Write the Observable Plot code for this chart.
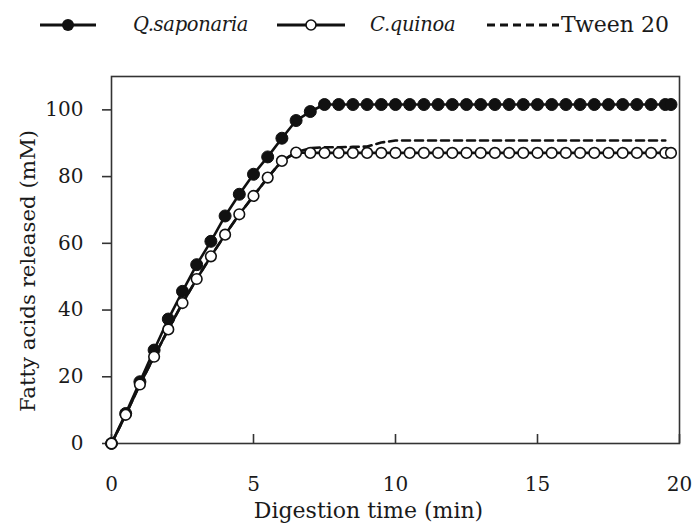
<!DOCTYPE html>
<html>
<head>
<meta charset="utf-8">
<script src="https://cdn.jsdelivr.net/npm/d3@7"></script>
<script src="https://cdn.jsdelivr.net/npm/@observablehq/plot@0.6"></script>
<style>
  html, body { margin: 0; padding: 0; background: #fff; }
  #wrap { position: relative; width: 697px; height: 525px; font-family: "DejaVu Serif", serif; color: #1a1a1a; }
  #legend { position: relative; width: 697px; height: 50px; }
  .lg { position: absolute; top: 12px; font-size: 20px; line-height: 26px; white-space: nowrap; }
  .sw { position: absolute; top: 13px; }
  #chart { position: absolute; left: 0; top: 50px; }
</style>
</head>
<body>
<div id="wrap">
  <div id="legend"></div>
  <div id="chart"></div>
</div>
<script>
// ---- data ----
const seriesNames = ["Q.saponaria", "C.quinoa", "Tween 20"];
const time = [0,0.5,1,1.5,2,2.5,3,3.5,4,4.5,5,5.5,6,6.5,7,7.5,8,8.5,9,9.5,10,10.5,11,11.5,12,12.5,13,13.5,14,14.5,15,15.5,16,16.5,17,17.5,18,18.5,19,19.5,19.7];
const qSaponaria = [0,9,18.5,28,37.3,45.6,53.6,60.6,68.2,74.7,80.7,85.9,91.5,96.8,99.5,101.6,101.6,101.6,101.6,101.6,101.6,101.6,101.6,101.6,101.6,101.6,101.6,101.6,101.6,101.6,101.6,101.6,101.6,101.6,101.6,101.6,101.6,101.6,101.6,101.6,101.6];
const cQuinoa = [0,8.6,17.7,26,34.2,42.1,49.3,56.1,62.6,68.7,74.2,79.7,84.7,87.2,87.1,87.1,87.1,87.1,87.1,87.1,87.1,87.1,87.1,87.1,87.1,87.1,87.1,87.1,87.1,87.1,87.1,87.1,87.1,87.1,87.1,87.1,87.1,87.1,87.1,87.1,87.1];
const tween20 = [0,8.6,17.7,26,34.2,42.1,49.3,56.1,62.6,68.7,74.2,79.7,84.7,87.3,88.5,88.8,88.8,88.9,89,90.2,90.8,90.8,90.8,90.8,90.8,90.8,90.8,90.8,90.8,90.8,90.8,90.8,90.8,90.8,90.8,90.8,90.8,90.8,90.8,90.8,null];
const xTicks = [0, 5, 10, 15, 20];
const yTicks = [0, 20, 40, 60, 80, 100];
const xLabel = "Digestion time (min)";
const yLabel = "Fatty acids released (mM)";

const rows = (ys) => time.map((t, i) => ({t, v: ys[i]})).filter(d => d.v != null);
const qRows = rows(qSaponaria), cRows = rows(cQuinoa), tRows = rows(tween20);

const ink = "#111";
const chart = Plot.plot({
  width: 697,
  height: 475,
  marginLeft: 111,
  marginRight: 18,
  marginTop: 26,
  marginBottom: 82,
  style: {fontFamily: "DejaVu Serif, serif", fontSize: "20px", color: "#1a1a1a", background: "#fff", overflow: "visible"},
  x: {domain: [0, 20], ticks: xTicks},
  y: {domain: [0, 110], ticks: yTicks},
  marks: [
    Plot.frame({stroke: "#333", strokeWidth: 1.6}),
    Plot.tickX(xTicks, {x: d => d, insetTop: 358, stroke: "#333", strokeWidth: 1.6}),
    Plot.axisX({ticks: xTicks, tickSize: 0, tickPadding: 33, label: null, fontSize: 20}),
    Plot.axisY({ticks: yTicks, tickSize: 9, tickPadding: 19, label: null, fontSize: 20, stroke: "#333", strokeWidth: 1.6}),
    Plot.text([xLabel], {frameAnchor: "bottom", dy: 74, dx: -27, fontSize: 22, fill: "#1a1a1a"}),
    Plot.text([yLabel], {frameAnchor: "left", textAnchor: "middle", dx: -83, dy: 11, rotate: -90, fontSize: 21.3, fill: "#1a1a1a"}),
    Plot.line(tRows, {x: "t", y: "v", stroke: ink, strokeWidth: 2.6, strokeDasharray: "8,5"}),
    Plot.line(qRows, {x: "t", y: "v", stroke: ink, strokeWidth: 2.6}),
    Plot.dot(qRows, {x: "t", y: "v", r: 6, fill: ink, stroke: ink, strokeWidth: 1}),
    Plot.line(cRows, {x: "t", y: "v", stroke: ink, strokeWidth: 2.6}),
    Plot.dot(cRows, {x: "t", y: "v", r: 5.3, fill: "#fff", stroke: ink, strokeWidth: 1.6})
  ]
});
document.getElementById("chart").appendChild(chart);

// ---- legend (HTML) ----
const legend = document.getElementById("legend");
const items = [
  {name: seriesNames[0], swX: 40, swW: 56, textX: 133, italic: true, marker: "filled", dash: null},
  {name: seriesNames[1], swX: 277, swW: 68, textX: 370, italic: true, marker: "open", dash: null},
  {name: seriesNames[2], swX: 487, swW: 72, textX: 561, italic: false, marker: null, dash: "8,5"}
];
for (const it of items) {
  const svg = d3.create("svg").attr("class", "sw").attr("width", it.swW).attr("height", 24)
    .style("left", it.swX + "px");
  svg.append("line").attr("x1", 0).attr("x2", it.swW).attr("y1", 12).attr("y2", 12)
    .attr("stroke", ink).attr("stroke-width", 3).attr("stroke-dasharray", it.dash);
  if (it.marker === "filled") svg.append("circle").attr("cx", it.swW / 2).attr("cy", 12).attr("r", 6).attr("fill", ink);
  if (it.marker === "open") svg.append("circle").attr("cx", it.swW / 2).attr("cy", 12).attr("r", 5).attr("fill", "#fff").attr("stroke", ink).attr("stroke-width", 1.6);
  legend.appendChild(svg.node());
  const sp = document.createElement("span");
  sp.className = "lg";
  sp.style.left = it.textX + "px";
  sp.style.fontStyle = it.italic ? "italic" : "normal";
  sp.style.fontSize = it.italic ? "19.5px" : "22px";
  if (it.italic) sp.style.letterSpacing = "-0.3px";
  sp.textContent = it.name;
  legend.appendChild(sp);
}
</script>
</body>
</html>
